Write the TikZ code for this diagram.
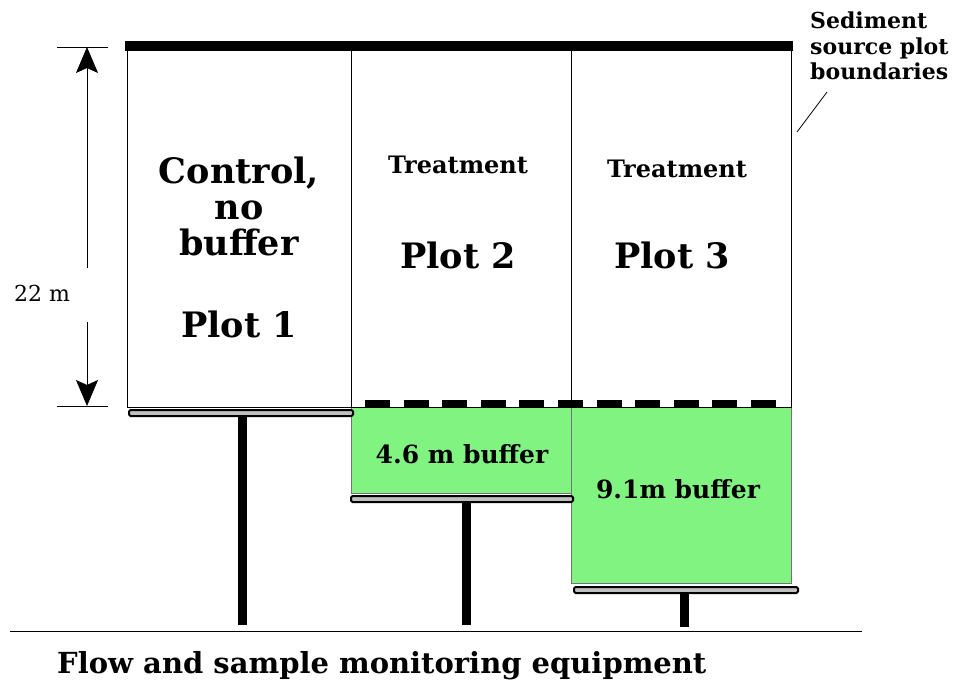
\documentclass[tikz,border=0pt]{standalone}
\usepackage{fontspec}
\setmainfont{DejaVu Serif}
\usetikzlibrary{arrows.meta, positioning}
\definecolor{buffergreen}{HTML}{80F380}
\definecolor{troughgray}{HTML}{C0C0C0}

\begin{document}
\begin{tikzpicture}[x=1pt, y=-1pt, >={Stealth[length=26pt, width=22pt, inset=5pt]},
    plotlabel/.style={font=\bfseries\fontsize{35}{40}\selectfont, anchor=base, inner sep=0pt},
    treatlabel/.style={font=\bfseries\fontsize{24}{28}\selectfont, anchor=base, inner sep=0pt},
    bufflabel/.style={font=\bfseries\fontsize{25}{28}\selectfont, anchor=base, inner sep=0pt},
    trough/.style={draw=black, line width=2pt, fill=troughgray, rounded corners=1.5pt,
        inner sep=0pt, minimum height=6pt},
    post/.style={line width=9pt},
    buffer/.style={fill=buffergreen, draw=black!55, line width=0.8pt}]
    \useasboundingbox (0,0) rectangle (958,683);

    % Buffer strips
    \draw[buffer] (351,407) rectangle (571,493);
    \draw[buffer] (571,407) rectangle (791,583);

    % Plot boundaries
    \draw[line width=0.8pt] (127,46) rectangle (791,407);
    \draw[line width=0.8pt] (351,46) -- (351,407) (571,46) -- (571,407);
    \fill (125,41) rectangle (793,51);
    \draw[line width=7pt, dash pattern=on 25pt off 13.6pt] (365,403) -- (778,403);

    % Troughs and posts
    \node[trough, minimum width=224pt] (trough1) at (241,413) {};
    \node[trough, minimum width=222pt] (trough2) at (462,499) {};
    \node[trough, minimum width=224pt] (trough3) at (686,590) {};
    \draw[post] (242,417) -- (242,625);
    \draw[post] (466,503) -- (466,625);
    \draw[post] (684,594) -- (684,627);
    \draw[line width=0.8pt] (10,631) -- (862,631);

    % Plot labels
    \node[plotlabel] (ctrl) at (239,183) {Control,};
    \node[plotlabel] (nobuf) at (239,219) {no};
    \node[plotlabel] (buf) at (239,255) {buffer};
    \node[plotlabel] (plot1) at (239,337) {Plot 1};
    \node[treatlabel] (treat2) at (458,173) {Treatment};
    \node[plotlabel] (plot2) at (458,268) {Plot 2};
    \node[treatlabel] (treat3) at (677,177) {Treatment};
    \node[plotlabel] (plot3) at (672,268) {Plot 3};
    \node[bufflabel] (buff2) at (462,463) {4.6 m buffer};
    \node[bufflabel] (buff3) at (678,498) {9.1m buffer};

    % Length of the plots
    \coordinate (dimtop) at (87,47);
    \coordinate (dimbot) at (87,406);
    \draw[line width=0.8pt] (57,47) -- (108,47) (57,406) -- (108,406);
    \node[font=\fontsize{22}{26}\selectfont, anchor=base, inner sep=0pt] (dimlbl) at (42,301) {22 m};
    \draw[->, line width=0.8pt] (87,268) -- (dimtop);
    \draw[->, line width=0.8pt] (87,322) -- (dimbot);

    % Boundary note
    \node[font=\bfseries\fontsize{22}{25.5}\selectfont, align=left, anchor=north west, inner sep=0pt]
        (sedlbl) at (810,12) {Sediment\\source plot\\boundaries};
    \coordinate (leadtop) at (827,92);
    \coordinate (leadend) at (797,132);
    \draw[line width=0.8pt] (leadtop) -- (leadend);

    % Equipment note
    \node[font=\bfseries\fontsize{29}{32}\selectfont, anchor=base west, inner sep=0pt] (equip) at (57,673)
        {Flow and sample monitoring equipment};
\end{tikzpicture}
\end{document}
